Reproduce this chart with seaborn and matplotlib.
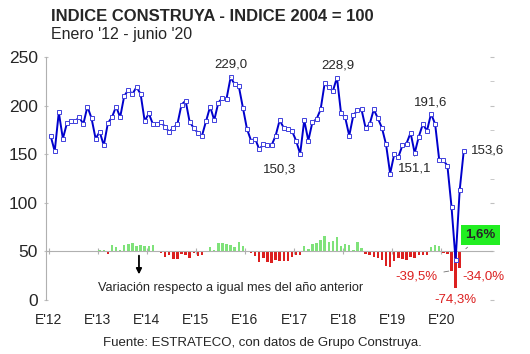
import numpy as np
import pandas as pd
import seaborn as sns
import matplotlib.pyplot as plt
from matplotlib.ticker import MultipleLocator

# Indice Construya (2004 = 100), enero 2012 - junio 2020
indice = [
    169, 153, 193, 166, 182, 184, 184, 188, 181, 199, 187, 166,   # 2012
    173, 159, 182, 188, 199, 188, 210, 216, 212, 219, 212, 184,   # 2013
    192, 181, 181, 183, 178, 173, 177, 181, 201, 205, 183, 177,   # 2014
    172, 169, 184, 199, 185, 203, 208, 207, 229.0, 222, 220, 198, # 2015
    176, 164, 166, 155, 160, 159, 159, 169, 185, 177, 176, 174,   # 2016
    164, 150.3, 185, 164, 183, 186, 196, 223, 219, 215, 228.9, 192,  # 2017
    188, 169, 190, 195, 196, 177, 181, 196, 187, 177, 160, 130,   # 2018
    150, 147, 159, 161, 172, 151.1, 168, 181, 174, 191.6, 181, 144,  # 2019
    144, 138, 96, 41, 113, 153.6,                                  # 2020
]

# variacion interanual (%), enero 2013 - junio 2020
variacion = [
    2.4, 3.9, -5.7, 13.3, 9.3, 2.2, 14.1, 14.9, 17.1, 10.1, 13.4, 10.8,
    11.0, 13.8, -0.5, -2.7, -10.6, -8.0, -15.7, -16.2, -5.2, -6.4, -13.7, -3.8,
    -10.4, -6.6, 1.7, 8.7, 3.9, 17.3, 17.5, 14.4, 13.9, 8.3, 20.2, 11.9,
    -2.0, -3.0, -9.8, -22.1, -13.5, -21.7, -23.6, -18.4, -19.2, -20.3, -20.0, -12.1,
    -6.8, -8.4, 11.4, 5.8, 14.4, 17.0, 23.3, 32.0, 18.4, 21.5, 30.1, 10.3,
    14.6, 12.4, 2.7, 18.9, 7.1, -4.8, -7.7, -12.1, -14.6, -17.7, -30.1, -32.3,
    -20.2, -13.0, -16.3, -17.4, -12.2, -14.6, -7.2, -7.7, -7.0, 8.2, 13.1, 10.8,
    -4.0, -6.1, -39.5, -74.3, -34.0, 1.6,
]

anios = ["E'12", "E'13", "E'14", "E'15", "E'16", "E'17", "E'18", "E'19", "E'20"]

n = len(indice)
df = pd.DataFrame({"mes": np.arange(n), "indice": indice})
var = pd.DataFrame({"mes": np.arange(n - len(variacion), n), "var": variacion})

sns.set_style("white")
plt.rcParams["font.family"] = ["Liberation Sans", "DejaVu Sans"]

fig = plt.figure(figsize=(5.3, 3.54), dpi=100)
ax = fig.add_axes([45.7 / 530, 1 - 300 / 354, (492 - 45.7) / 530, 243 / 354])

# barras de variacion, base en 50 (1% = 0.5 puntos)
colores = ["#7fe27a" if v >= 0 else "#dc2020" for v in var["var"]]
ax.bar(var["mes"], var["var"] * 0.5, bottom=50, width=0.6,
       color=colores, edgecolor="none", linewidth=0, zorder=2)

sns.lineplot(data=df, x="mes", y="indice", ax=ax, color="#0000cc", lw=1.4,
             marker="s", markersize=3.0, markerfacecolor="white",
             markeredgecolor="#4040dd", markeredgewidth=0.7, zorder=3)

ax.set_xlim(-1.2, 107.9)
ax.set_ylim(0, 250)
ax.set_xlabel("")
ax.set_ylabel("")

for s in ["top", "right"]:
    ax.spines[s].set_visible(False)
ax.spines["bottom"].set_position(("data", 50))
ax.spines["bottom"].set_color("#b0b0b0")
ax.spines["left"].set_color("#b0b0b0")

ax.set_xticks([12 * k - 0.5 for k in range(len(anios))])
ax.set_xticklabels(anios)
ax.tick_params(axis="x", direction="inout", length=4, color="#b0b0b0",
               pad=42, labelsize=10, bottom=True)
ax.set_yticks(range(0, 251, 50))
ax.yaxis.set_minor_locator(MultipleLocator(25))
ax.tick_params(axis="y", which="both", direction="inout", length=3,
               color="#c0c0c0", labelsize=12.5, left=True, right=True, pad=4)
ax.tick_params(axis="y", which="minor", left=False)

# etiquetas de puntos
def etiqueta(txt, mes, val, dx, dy, leader=False, **kw):
    props = dict(arrowstyle="-", color="#707070", lw=0.6) if leader else None
    ax.annotate(txt, xy=(mes, val), xytext=(dx, dy), textcoords="offset points",
                ha=kw.pop("ha", "center"), va="center", fontsize=9.5,
                arrowprops=props, zorder=5, **kw)

etiqueta("229,0", 44, indice[44], 0, 9, leader=True)
etiqueta("228,9", 70, indice[70], 1, 9)
etiqueta("150,3", 61, indice[61], -15, -11)
etiqueta("191,6", 93, indice[93], 0, 8)
etiqueta("151,1", 89, indice[89], 0, -11, leader=True)
etiqueta("153,6", 101, indice[101], 5, 0, ha="left")

# etiquetas de variacion
base = {m: 50 + v * 0.5 for m, v in zip(var["mes"], var["var"])}
etiqueta("-39,5%", 98, base[98], -25, -4.5, leader=True, color="#dc2020")
etiqueta("-74,3%", 99, base[99], 0, -8.5, color="#dc2020")
etiqueta("-34,0%", 100, base[100], 17, -6.5, color="#dc2020")
ax.annotate("1,6%", xy=(101, base[101]), xytext=(12, 11), textcoords="offset points",
            ha="center", va="center", fontsize=9.5, weight="bold",
            bbox=dict(boxstyle="square,pad=0.3", fc="#22ee22", ec="none"),
            arrowprops=dict(arrowstyle="-", color="#707070", lw=0.6), zorder=5)

ax.annotate("", xy=(21.6, 23.5), xytext=(21.6, 48.5),
            arrowprops=dict(arrowstyle="-|>", color="black", lw=1.3,
                            mutation_scale=8))
fig.text(98 / 530, 1 - 288 / 354, "Variación respecto a igual mes del año anterior",
         fontsize=9.2, va="center", ha="left")

fig.text(51 / 530, 1 - 16.5 / 354, "INDICE CONSTRUYA - INDICE 2004 = 100",
         fontsize=12, weight="bold", va="center", ha="left")
fig.text(51 / 530, 1 - 35 / 354, "Enero '12 - junio '20",
         fontsize=11.5, va="center", ha="left")
fig.text(262 / 530, 1 - 343 / 354, "Fuente: ESTRATECO, con datos de Grupo Construya.",
         fontsize=9.5, va="center", ha="center")

fig.savefig("out.png", dpi=100)
